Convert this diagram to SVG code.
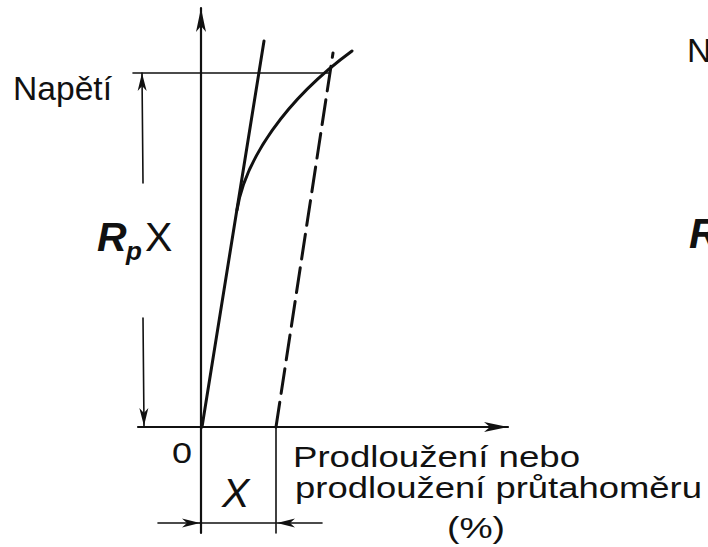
<svg xmlns="http://www.w3.org/2000/svg" width="708" height="547" viewBox="0 0 708 547">
<style>
  .ln{fill:none;stroke:#111;stroke-linecap:round}
  .thin{stroke-width:1.6}
  .ax{stroke-width:2.2}
  .thick{stroke-width:3}
  .t{font-family:"Liberation Sans",Arial,sans-serif;fill:#111}
</style>
<defs>
  <marker id="ah" markerUnits="userSpaceOnUse" markerWidth="30" markerHeight="14" viewBox="-26 -7 28 14" refX="0" refY="0" orient="auto">
    <path d="M0,0 L-24,-5 L-18,0 L-24,5 Z" fill="#111"/>
  </marker>
  <marker id="ahs" markerUnits="userSpaceOnUse" markerWidth="24" markerHeight="12" viewBox="-20 -6 22 12" refX="0" refY="0" orient="auto">
    <path d="M0,0 L-18,-4.5 L-13,0 L-18,4.5 Z" fill="#111"/>
  </marker>
</defs>
<rect width="708" height="547" fill="#fff"/>
<g id="connectors">
  <line id="y-axis" class="ln ax" x1="201" y1="533" x2="201" y2="8" marker-end="url(#ah)"/>
  <line id="x-axis" class="ln ax" x1="138" y1="427" x2="508" y2="427" marker-end="url(#ah)"/>
  <line id="stress-level" class="ln thin" x1="133" y1="73" x2="330" y2="73"/>
  <line id="dim-up" class="ln thin" x1="143" y1="183" x2="142" y2="73" marker-end="url(#ahs)"/>
  <line id="dim-down" class="ln thin" x1="143" y1="318" x2="144" y2="426" marker-end="url(#ahs)"/>
  <line id="ext-x" class="ln thin" x1="276" y1="427" x2="276" y2="533"/>
  <line id="dim-left" class="ln thin" x1="158" y1="523" x2="200" y2="523" marker-end="url(#ahs)"/>
  <line id="dim-mid" class="ln thin" x1="200" y1="523" x2="276" y2="523"/>
  <line id="dim-right" class="ln thin" x1="322" y1="523" x2="277" y2="523" marker-end="url(#ahs)"/>
  <line id="elastic" class="ln thick" x1="202" y1="427" x2="264" y2="41"/>
  <path id="curve" class="ln thick" d="M237,210 C245,160 285,100 352,51"/>
  <line id="offset" class="ln thick" x1="276" y1="427" x2="333" y2="53" stroke-dasharray="25 9" stroke-linecap="butt"/>
</g>
<g id="label-napeti"><text class="t" x="13" y="100" font-size="33" textLength="99" lengthAdjust="spacingAndGlyphs">Napětí</text></g>
<g id="label-rpx">
  <text class="t" x="97" y="251" font-size="41" font-weight="bold" font-style="italic">R</text>
  <text class="t" x="126" y="260" font-size="26" font-weight="bold" font-style="italic">p</text>
  <text class="t" x="145" y="251" font-size="41">X</text>
</g>
<g id="label-zero"><text class="t" x="172" y="463" font-size="30" textLength="20" lengthAdjust="spacingAndGlyphs">0</text></g>
<g id="label-x"><text class="t" x="222" y="507" font-size="41" font-style="italic">X</text></g>
<g id="label-xaxis">
  <text class="t" x="293" y="467" font-size="29" textLength="287" lengthAdjust="spacingAndGlyphs">Prodloužení  nebo</text>
  <text class="t" x="295" y="498" font-size="29" textLength="407" lengthAdjust="spacingAndGlyphs">prodloužení průtahoměru</text>
  <text class="t" x="447" y="538" font-size="30" textLength="58" lengthAdjust="spacingAndGlyphs">(%)</text>
</g>
<g id="label-n-right"><text class="t" x="687" y="62" font-size="34">N</text></g>
<g id="label-r-right"><text class="t" x="689" y="248" font-size="42" font-weight="bold" font-style="italic">R</text></g>
</svg>
